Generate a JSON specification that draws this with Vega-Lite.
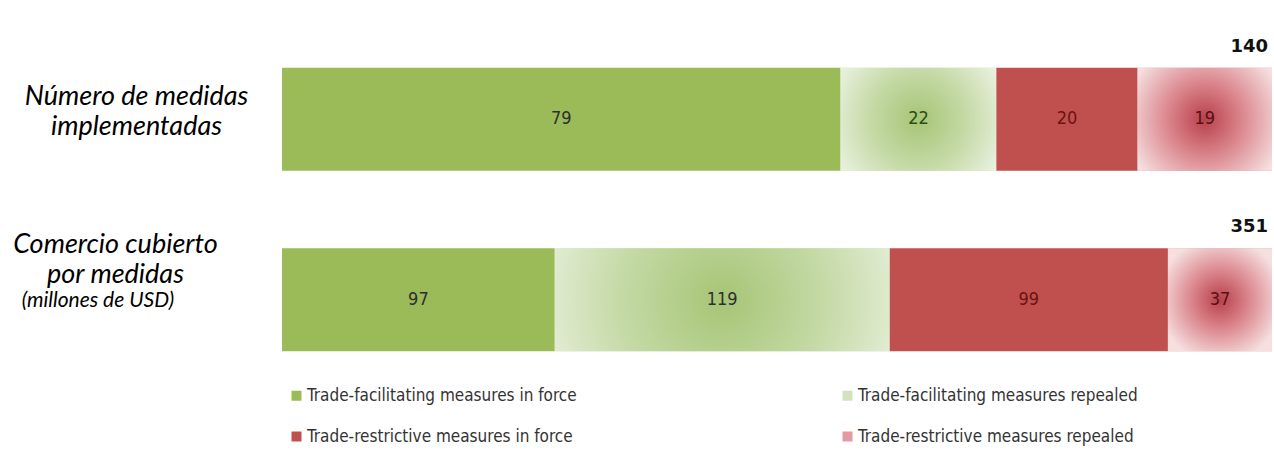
{
  "$schema": "https://vega.github.io/schema/vega-lite/v6.json",
  "width": 990,
  "height": 361,
  "autosize": {"type": "none"},
  "padding": {"left": 282, "top": 29, "right": 2, "bottom": 69},
  "background": "white",
  "config": {"view": {"stroke": null}},
  "datasets": {
    "bars": [
      {"row": "r1", "cat": "Trade-facilitating measures in force", "order": 1, "value": 79},
      {"row": "r1", "cat": "Trade-facilitating measures repealed", "order": 2, "value": 22},
      {"row": "r1", "cat": "Trade-restrictive measures in force", "order": 3, "value": 20},
      {"row": "r1", "cat": "Trade-restrictive measures repealed", "order": 4, "value": 19},
      {"row": "r2", "cat": "Trade-facilitating measures in force", "order": 1, "value": 97},
      {"row": "r2", "cat": "Trade-facilitating measures repealed", "order": 2, "value": 119},
      {"row": "r2", "cat": "Trade-restrictive measures in force", "order": 3, "value": 99},
      {"row": "r2", "cat": "Trade-restrictive measures repealed", "order": 4, "value": 37}
    ],
    "totals": [
      {"row": "r1", "total": 140},
      {"row": "r2", "total": 351}
    ],
    "notes": [
      {"row": "r2", "note": "(millones de USD)"}
    ]
  },
  "layer": [
    {
      "data": {"name": "bars"},
      "mark": {"type": "bar"},
      "encoding": {
        "y": {
          "field": "row",
          "type": "nominal",
          "title": null,
          "scale": {"paddingInner": 0.43, "paddingOuter": 0.215},
          "axis": {
            "title": null,
            "domain": false,
            "ticks": false,
            "tickSize": 0,
            "labelExpr": "datum.value === 'r1' ? ['Número de medidas', 'implementadas'] : ['Comercio cubierto', 'por medidas']",
            "labelFont": "Lato",
            "labelFontStyle": "italic",
            "labelFontSize": 27,
            "labelColor": "#000000",
            "labelLineHeight": 30,
            "labelAlign": "center",
            "labelBaseline": "middle",
            "labelLimit": 400,
            "labelPadding": {"condition": {"test": "datum.value === 'r1'", "value": 146}, "value": 167},
            "labelOffset": {"condition": {"test": "datum.value === 'r1'", "value": -22}, "value": -55}
          }
        },
        "x": {
          "field": "value",
          "type": "quantitative",
          "stack": "normalize",
          "scale": {"domain": [0, 1]},
          "axis": null
        },
        "order": {"field": "order", "type": "quantitative"},
        "color": {
          "field": "cat",
          "type": "nominal",
          "scale": {
            "domain": ["Trade-facilitating measures in force", "Trade-restrictive measures in force", "Trade-facilitating measures repealed", "Trade-restrictive measures repealed"],
            "range": ["#9BBB59", "#C0504D", "#d3e2bd", "#e39aa0"]
          },
          "legend": {
            "title": null,
            "orient": "none",
            "legendX": 6,
            "legendY": 358,
            "columns": 2,
            "columnPadding": 262,
            "rowPadding": 23,
            "symbolType": "square",
            "symbolSize": 100,
            "symbolStrokeWidth": 0,
            "labelFont": "DejaVu Sans Condensed",
            "labelFontSize": 17,
            "labelColor": "#333333",
            "labelOffset": 2,
            "labelLimit": 500
          }
        }
      }
    },
    {
      "data": {"name": "bars"},
      "mark": {
        "type": "bar",
        "fill": {
          "gradient": "radial",
          "x1": 0.5, "y1": 0.5, "r1": 0,
          "x2": 0.5, "y2": 0.5, "r2": 0.6,
          "stops": [
            {"offset": 0, "color": "#a6c575"},
            {"offset": 0.5, "color": "#c4d9a5"},
            {"offset": 1, "color": "#ebf2e1"}
          ]
        }
      },
      "encoding": {
        "y": {"field": "row", "type": "nominal"},
        "x": {"field": "value", "type": "quantitative", "stack": "normalize", "scale": {"domain": [0, 1]}},
        "order": {"field": "order", "type": "quantitative"},
        "detail": {"field": "cat", "type": "nominal"},
        "opacity": {"condition": {"test": "datum.cat === 'Trade-facilitating measures repealed'", "value": 1}, "value": 0}
      }
    },
    {
      "data": {"name": "bars"},
      "mark": {
        "type": "bar",
        "fill": {
          "gradient": "radial",
          "x1": 0.5, "y1": 0.5, "r1": 0,
          "x2": 0.5, "y2": 0.5, "r2": 0.6,
          "stops": [
            {"offset": 0, "color": "#b8404b"},
            {"offset": 0.45, "color": "#da848b"},
            {"offset": 1, "color": "#f5dfdf"}
          ]
        }
      },
      "encoding": {
        "y": {"field": "row", "type": "nominal"},
        "x": {"field": "value", "type": "quantitative", "stack": "normalize", "scale": {"domain": [0, 1]}},
        "order": {"field": "order", "type": "quantitative"},
        "detail": {"field": "cat", "type": "nominal"},
        "opacity": {"condition": {"test": "datum.cat === 'Trade-restrictive measures repealed'", "value": 1}, "value": 0}
      }
    },
    {
      "data": {"name": "bars"},
      "mark": {"type": "text", "font": "DejaVu Sans Condensed", "fontSize": 18, "baseline": "middle"},
      "encoding": {
        "y": {"field": "row", "type": "nominal"},
        "x": {"field": "value", "type": "quantitative", "stack": "normalize", "bandPosition": 0.5, "scale": {"domain": [0, 1]}},
        "order": {"field": "order", "type": "quantitative"},
        "detail": {"field": "cat", "type": "nominal"},
        "text": {"field": "value", "type": "quantitative"},
        "color": {
          "condition": [
            {"test": "datum.cat === 'Trade-facilitating measures repealed' && datum.row === 'r1'", "value": "#2b4d12"},
            {"test": "datum.cat === 'Trade-restrictive measures in force'", "value": "#6e1212"},
            {"test": "datum.cat === 'Trade-restrictive measures repealed'", "value": "#561016"}
          ],
          "value": "#2e2e2e"
        }
      }
    },
    {
      "data": {"name": "totals"},
      "mark": {"type": "text", "align": "right", "baseline": "alphabetic", "dy": -16, "dx": -4, "font": "DejaVu Sans", "fontWeight": "bold", "fontSize": 18, "color": "#111111"},
      "encoding": {
        "x": {"datum": 1, "type": "quantitative", "scale": {"domain": [0, 1]}},
        "y": {"field": "row", "type": "nominal", "bandPosition": 0},
        "text": {"field": "total", "type": "quantitative"}
      }
    },
    {
      "data": {"name": "notes"},
      "mark": {"type": "text", "align": "center", "baseline": "alphabetic", "dy": 7, "font": "Lato", "fontStyle": "italic", "fontSize": 21, "color": "#000000"},
      "encoding": {
        "x": {"datum": -0.186, "type": "quantitative", "scale": {"domain": [0, 1]}},
        "y": {"field": "row", "type": "nominal"},
        "text": {"field": "note", "type": "nominal"}
      }
    }
  ]
}
